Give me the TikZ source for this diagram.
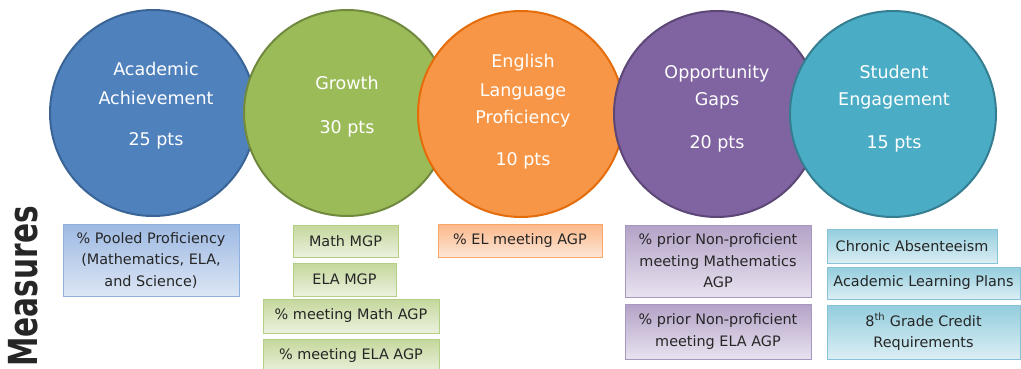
\documentclass[tikz,border=0pt]{standalone}
\usepackage{fontspec}
\setmainfont{DejaVu Sans}
\definecolor{bluefill}{HTML}{4F81BD}
\definecolor{blueline}{HTML}{3A6496}
\definecolor{greenfill}{HTML}{9BBB59}
\definecolor{greenline}{HTML}{71893F}
\definecolor{orangefill}{HTML}{F79646}
\definecolor{orangeline}{HTML}{E46C0A}
\definecolor{purplefill}{HTML}{8064A2}
\definecolor{purpleline}{HTML}{5C4776}
\definecolor{tealfill}{HTML}{4BACC6}
\definecolor{tealline}{HTML}{357D91}
\definecolor{bluetop}{HTML}{9DB9E3}
\definecolor{bluebot}{HTML}{DCE6F4}
\definecolor{blueedge}{HTML}{8DB0DF}
\definecolor{greentop}{HTML}{C4D79B}
\definecolor{greenbot}{HTML}{EBF1DE}
\definecolor{greenedge}{HTML}{B5CE86}
\definecolor{orangetop}{HTML}{FBB88A}
\definecolor{orangebot}{HTML}{FDE6D6}
\definecolor{orangeedge}{HTML}{F8A66A}
\definecolor{purpletop}{HTML}{B3A2C7}
\definecolor{purplebot}{HTML}{E8E2EF}
\definecolor{purpleedge}{HTML}{A897C0}
\definecolor{tealtop}{HTML}{93CDDD}
\definecolor{tealbot}{HTML}{DBEEF4}
\definecolor{tealedge}{HTML}{86C3D6}
\definecolor{inkdark}{HTML}{262626}
\begin{document}
\begin{tikzpicture}[x=1pt,y=-1pt,
  bubble/.style={circle, minimum size=206pt, line width=2pt, inner sep=0pt},
  ctext/.style={font=\fontsize{17.5}{21}\selectfont, text=white, inner sep=0pt, anchor=base},
  mbox/.style={rectangle, line width=0.8pt, inner sep=2pt, align=center,
    font=\fontsize{14.4}{21.5}\selectfont, text=inkdark},
  bluebox/.style={mbox, draw=blueedge, top color=bluetop, bottom color=bluebot},
  greenbox/.style={mbox, draw=greenedge, top color=greentop, bottom color=greenbot},
  orangebox/.style={mbox, draw=orangeedge, top color=orangetop, bottom color=orangebot},
  purplebox/.style={mbox, draw=purpleedge, top color=purpletop, bottom color=purplebot},
  tealbox/.style={mbox, draw=tealedge, top color=tealtop, bottom color=tealbot}
]
\useasboundingbox (0,0) rectangle (1021,369);

% circles (drawn left to right, later ones on top)
\node[bubble, fill=bluefill, draw=blueline] (cblue) at (153,113) {};
\node[bubble, fill=greenfill, draw=greenline] (cgreen) at (347,113) {};
\node[bubble, fill=orangefill, draw=orangeline] (corange) at (521,114) {};
\node[bubble, fill=purplefill, draw=purpleline] (cpurple) at (717,114) {};
\node[bubble, fill=tealfill, draw=tealline] (cteal) at (893,114) {};

% circle texts
\node[ctext] (tb1) at (156,76) {Academic};
\node[ctext] (tb2) at (156,104) {Achievement};
\node[ctext] (tb3) at (156,146) {25 pts};
\node[ctext] (tg1) at (347,90) {Growth};
\node[ctext] (tg2) at (347,133) {30 pts};
\node[ctext] (to1) at (523,68) {English};
\node[ctext] (to2) at (523,96) {Language};
\node[ctext] (to3) at (523,124) {Proficiency};
\node[ctext] (to4) at (523,165) {10 pts};
\node[ctext] (tp1) at (717,78) {Opportunity};
\node[ctext] (tp2) at (717,106) {Gaps};
\node[ctext] (tp3) at (717,148) {20 pts};
\node[ctext] (tt1) at (894,78) {Student};
\node[ctext] (tt2) at (894,106) {Engagement};
\node[ctext] (tt3) at (894,148) {15 pts};

% measure boxes
\node[bluebox, minimum width=176pt, minimum height=72pt] (bb1) at (151,260)
  {\% Pooled Proficiency\\(Mathematics, ELA,\\and Science)};
\node[greenbox, minimum width=105pt, minimum height=32pt] (gb1) at (345.5,241) {Math MGP};
\node[greenbox, minimum width=103pt, minimum height=33pt] (gb2) at (344.5,279.5) {ELA MGP};
\node[greenbox, minimum width=176pt, minimum height=34pt] (gb3) at (351,316) {\% meeting Math AGP};
\node[greenbox, minimum width=176pt, minimum height=34pt] (gb4) at (351,356) {\% meeting ELA AGP};
\node[orangebox, minimum width=164pt, minimum height=33pt] (ob1) at (520,240.5) {\% EL meeting AGP};
\node[purplebox, minimum width=186pt, minimum height=72pt] (pb1) at (718,261)
  {\% prior Non-proficient\\meeting Mathematics\\AGP};
\node[purplebox, minimum width=186pt, minimum height=55pt] (pb2) at (718,331.5)
  {\% prior Non-proficient\\meeting ELA AGP};
\node[tealbox, minimum width=170pt, minimum height=34pt] (tb4) at (912,246) {Chronic Absenteeism};
\node[tealbox, minimum width=193pt, minimum height=32pt] (tb5) at (923.5,283) {Academic Learning Plans};
\node[tealbox, minimum width=193pt, minimum height=54pt] (tb6) at (923.5,332)
  {8\textsuperscript{th} Grade Credit\\Requirements};

% side label
\node[rotate=90, anchor=base east, inner sep=0pt, text=inkdark] (measures) at (37,206)
  {\scalebox{0.74}[1]{\fontsize{40}{40}\selectfont\bfseries Measures}};
\end{tikzpicture}
\end{document}
